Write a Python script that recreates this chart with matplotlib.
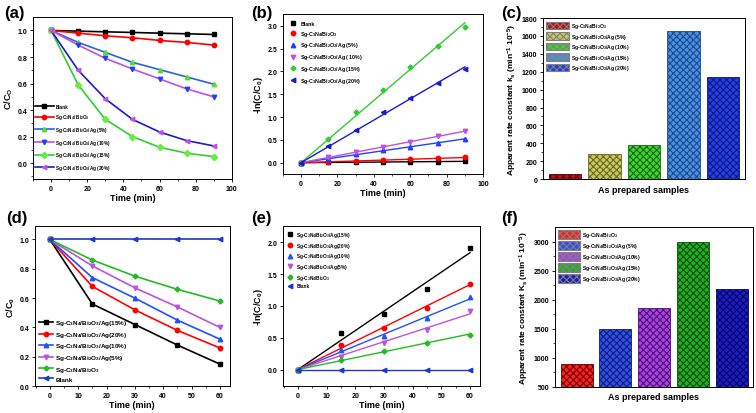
import matplotlib
matplotlib.use('Agg')
import matplotlib.pyplot as plt
import numpy as np
from matplotlib.patches import Patch

plt.rcParams['font.family'] = ['Liberation Sans', 'DejaVu Sans']
plt.rcParams['font.weight'] = 'bold'
plt.rcParams['axes.labelweight'] = 'bold'
plt.rcParams['mathtext.default'] = 'regular'
plt.rcParams['hatch.linewidth'] = 0.8

# ---- data ----
t_a = [0, 15, 30, 45, 60, 75, 90]
a_labels = ['Blank', 'Sg-C$_3$N$_4$/ Bi$_2$O$_3$', 'Sg-C$_3$N$_4$/ Bi$_2$O$_3$/Ag (5%)',
            'Sg-C$_3$N$_4$/ Bi$_2$O$_3$/Ag (10%)', 'Sg-C$_3$N$_4$/ Bi$_2$O$_3$/Ag (15%)',
            'Sg-C$_3$N$_4$/ Bi$_2$O$_3$/Ag (20%)']
a_blank = [1.0, 0.995, 0.99, 0.985, 0.98, 0.975, 0.97]
a_bi = [1.0, 0.98, 0.96, 0.945, 0.925, 0.91, 0.89]
a_5 = [1.0, 0.91, 0.835, 0.76, 0.705, 0.65, 0.595]
a_10 = [1.0, 0.89, 0.79, 0.71, 0.635, 0.56, 0.50]
a_15 = [1.0, 0.59, 0.33, 0.20, 0.12, 0.075, 0.05]
a_20 = [1.0, 0.70, 0.485, 0.33, 0.235, 0.17, 0.13]

b_labels = ['Blank', 'Sg-C$_3$N$_4$/Bi$_2$O$_3$', 'Sg-C$_3$N$_4$/Bi$_2$O$_3$/Ag (5%)',
            'Sg-C$_3$N$_4$/Bi$_2$O$_3$/Ag ( 10%)', 'Sg-C$_3$N$_4$/Bi$_2$O$_3$/Ag (15%)',
            'Sg-C$_3$N$_4$/Bi$_2$O$_3$/Ag (20%)']
b_blank = [0, 0.005, 0.01, 0.015, 0.02, 0.025, 0.03]
b_bi = [0, 0.02, 0.04, 0.055, 0.075, 0.095, 0.115]
b_5 = [0, 0.09, 0.18, 0.27, 0.35, 0.43, 0.52]
b_10 = [0, 0.12, 0.23, 0.34, 0.46, 0.58, 0.69]
b_15 = [0, 0.53, 1.10, 1.60, 2.10, 2.55, 2.97]
b_20 = [0, 0.36, 0.72, 1.10, 1.42, 1.75, 2.05]

c_labels = ['Sg-C$_3$N$_4$/Bi$_2$O$_3$', 'Sg-C$_3$N$_4$/Bi$_2$O$_3$/Ag (5%)',
            'Sg-C$_3$N$_4$/Bi$_2$O$_3$/Ag (10%)', 'Sg-C$_3$N$_4$/Bi$_2$O$_3$/Ag (15%)',
            'Sg-C$_3$N$_4$/Bi$_2$O$_3$/Ag (20%)']
c_vals = [60, 285, 385, 1660, 1140]

t_d = [0, 15, 30, 45, 60]
d_labels = ['Sg-C$_3$N$_4$/Bi$_2$O$_3$/Ag(15%)', 'Sg-C$_3$N$_4$/Bi$_2$O$_3$/Ag(20%)',
            'Sg-C$_3$N$_4$/Bi$_2$O$_3$/Ag(10%)', 'Sg-C$_3$N$_4$/Bi$_2$O$_3$/Ag(5%)',
            'Sg-C$_3$N$_4$/Bi$_2$O$_3$', 'Blank']
d_15 = [1.0, 0.56, 0.42, 0.28, 0.15]
d_20 = [1.0, 0.68, 0.52, 0.38, 0.26]
d_10 = [1.0, 0.74, 0.60, 0.45, 0.32]
d_5 = [1.0, 0.82, 0.67, 0.54, 0.40]
d_bi = [1.0, 0.86, 0.75, 0.66, 0.58]
d_blank = [1.0, 1.0, 1.0, 1.0, 1.0]

e_15 = [0, 0.58, 0.87, 1.27, 1.91]
e_20 = [0, 0.38, 0.66, 0.97, 1.35]
e_10 = [0, 0.30, 0.52, 0.81, 1.14]
e_5 = [0, 0.20, 0.41, 0.62, 0.92]
e_bi = [0, 0.15, 0.29, 0.42, 0.55]
e_blank = [0, 0, 0, 0, 0]

f_vals = [900, 1500, 1850, 3000, 2190]


def style(ax):
    ax.tick_params(labelsize=5, width=0.6, length=2.5, pad=1.5)
    ax.tick_params(which='minor', width=0.5, length=1.5)
    for s in ax.spines.values():
        s.set_linewidth(0.7)


def origin_fit(x, y):
    # least squares slope through the origin
    x = np.asarray(x, float)
    y = np.asarray(y, float)
    return np.sum(x * y) / np.sum(x * x)


fig = plt.figure(figsize=(7.56, 4.14), dpi=100)

# (a)
ax = fig.add_axes([0.0437, 0.565, 0.263, 0.391])
a_series = [a_blank, a_bi, a_5, a_10, a_15, a_20]
a_lc = ['black', 'red', '#2f5fe0', '#c050e0', '#33cc33', '#1a1acc']
a_mc = ['black', 'red', '#55dd33', '#2040ff', '#66ee44', '#c050e0']
a_mk = ['s', 'o', '^', 'v', 'D', '<']
for y, lc, mc, mk, lab in zip(a_series, a_lc, a_mc, a_mk, a_labels):
    ax.plot(t_a, y, color=lc, lw=1.2, marker=mk, ms=3.2, mfc=mc, mec=mc, label=lab)
ax.set_xlim(-10, 100)
ax.set_ylim(-0.12, 1.1)
ax.set_xticks([0, 20, 40, 60, 80, 100])
ax.set_yticks([0.0, 0.2, 0.4, 0.6, 0.8, 1.0])
ax.set_xticks([-10, 10, 30, 50, 70, 90], minor=True)
ax.set_yticks([-0.1, 0.1, 0.3, 0.5, 0.7, 0.9], minor=True)
ax.set_xlabel('Time (min)', fontsize=6.5, labelpad=1)
ax.set_ylabel('C/C$_O$', fontsize=6.5, labelpad=2)
style(ax)
ax.legend(loc='lower left', fontsize=3.3, frameon=False, handlelength=4, labelspacing=0.8,
          borderaxespad=0.1, handletextpad=0.4, bbox_to_anchor=(0, 0.03))

# (b)
ax = fig.add_axes([0.374, 0.577, 0.265, 0.386])
b_series = [b_blank, b_bi, b_5, b_10, b_15, b_20]
b_col = ['black', 'red', '#2040ff', '#c050e0', '#33cc33', '#1a1acc']
b_mk = ['s', 'o', '^', 'v', 'P', '<']
xx = np.array([0, 90])
for y, c, mk, lab in zip(b_series, b_col, b_mk, b_labels):
    ax.plot(xx, origin_fit(t_a, y) * xx, color=c, lw=1.0)
    ax.plot(t_a, y, ls='none', marker=mk, ms=3.2, color=c, label=lab)
ax.set_xlim(-10, 100)
ax.set_ylim(-0.25, 3.25)
ax.set_xticks([0, 20, 40, 60, 80, 100])
ax.set_yticks([0.0, 0.5, 1.0, 1.5, 2.0, 2.5, 3.0])
ax.set_xticks([-10, 10, 30, 50, 70, 90], minor=True)
ax.set_xlabel('Time (min)', fontsize=6.5, labelpad=1)
ax.set_ylabel('-ln(C/C$_0$)', fontsize=6.5, labelpad=2)
style(ax)
ax.legend(loc='upper left', fontsize=3.8, frameon=False, handlelength=1.5, labelspacing=0.55,
          borderaxespad=0.8, handletextpad=0.6)

# (c)
ax = fig.add_axes([0.718, 0.565, 0.267, 0.389])
c_face = ['#c01010', '#c8c860', '#44d030', '#4a90e0', '#2040e8']
c_edge = ['#600010', '#6a6a20', '#107010', '#1a4a90', '#101880']
xs = np.arange(len(c_vals))
for i in range(len(c_vals)):
    ax.bar(xs[i], c_vals[i], width=0.82, color=c_face[i], edgecolor=c_edge[i],
           hatch='xxxxx', linewidth=0.6)
ax.set_xlim(-0.56, 4.55)
ax.set_ylim(0, 1800)
ax.set_xticks([])
ax.set_yticks(np.arange(0, 1801, 200))
ax.set_yticks(np.arange(100, 1800, 200), minor=True)
ax.set_xlabel('As prepared samples', fontsize=6.5, labelpad=4)
ax.set_ylabel('Apparent rate constant k$_s$ (min$^{-1}$ 10$^{-5}$)', fontsize=6, labelpad=2)
style(ax)
handles = [Patch(facecolor=c_face[i], edgecolor='#808080', hatch='xxxxx', linewidth=0.8)
           for i in range(5)]
ax.legend(handles, c_labels, loc='upper left', fontsize=3.6, frameon=False,
          handlelength=4.6, handleheight=2.0, labelspacing=0.3, borderaxespad=0.2,
          handletextpad=0.5)

# (d)
ax = fig.add_axes([0.046, 0.065, 0.258, 0.386])
d_series = [d_15, d_20, d_10, d_5, d_bi, d_blank]
d_col = ['black', 'red', '#2050ff', '#c050e0', '#22bb22', '#1a3acc']
d_mk = ['s', 'o', '^', 'v', 'P', '<']
for y, c, mk, lab in zip(d_series, d_col, d_mk, d_labels):
    ax.plot(t_d, y, color=c, lw=1.2, marker=mk, ms=3.2, label=lab)
ax.set_xlim(-5.3, 63.5)
ax.set_ylim(0, 1.09)
ax.set_xticks([0, 10, 20, 30, 40, 50, 60])
ax.set_yticks([0.0, 0.2, 0.4, 0.6, 0.8, 1.0])
ax.set_xticks(np.arange(-5, 64, 5), minor=True)
ax.set_xlabel('Time (min)', fontsize=6.5, labelpad=1)
ax.set_ylabel('C/C$_0$', fontsize=6.5, labelpad=2)
style(ax)
ax.legend(loc='lower left', fontsize=4.6, frameon=False, handlelength=2.2, labelspacing=0.4,
          borderaxespad=0.3, handletextpad=0.3)

# (e)
ax = fig.add_axes([0.374, 0.065, 0.261, 0.386])
e_series = [e_15, e_20, e_10, e_5, e_bi, e_blank]
xx = np.array([0, 60])
for y, c, mk, lab in zip(e_series, d_col, d_mk, d_labels):
    ax.plot(xx, origin_fit(t_d, y) * xx, color=c, lw=1.0)
    ax.plot(t_d, y, ls='none', marker=mk, ms=3.2, color=c, label=lab)
ax.set_xlim(-5.3, 63.5)
ax.set_ylim(-0.26, 2.25)
ax.set_xticks([0, 10, 20, 30, 40, 50, 60])
ax.set_yticks([0.0, 0.5, 1.0, 1.5, 2.0])
ax.set_xticks(np.arange(-5, 64, 5), minor=True)
ax.set_xlabel('Time (min)', fontsize=6.5, labelpad=1)
ax.set_ylabel('-ln(C/C$_0$)', fontsize=6.5, labelpad=2)
style(ax)
ax.legend(loc='upper left', fontsize=3.4, frameon=False, handlelength=1.5, labelspacing=0.35,
          borderaxespad=0.4, handletextpad=0.6)

# (f)
ax = fig.add_axes([0.734, 0.063, 0.262, 0.386])
f_face = ['#ff2020', '#2f4ff0', '#a843e8', '#22b022', '#1c1cc8']
f_edge = ['#700000', '#102070', '#501070', '#0a500a', '#080860']
for i in range(len(f_vals)):
    ax.bar(xs[i], f_vals[i] - 500, bottom=500, width=0.82, color=f_face[i],
           edgecolor=f_edge[i], hatch='xxxxx', linewidth=0.6)
ax.set_xlim(-0.56, 4.55)
ax.set_ylim(500, 3250)
ax.set_xticks([])
ax.set_yticks(np.arange(500, 3001, 500))
ax.set_yticks(np.arange(750, 3250, 500), minor=True)
ax.set_xlabel('As prepared samples', fontsize=6.5, labelpad=4)
ax.set_ylabel('Apparent rate constant K$_s$ (min$^{-1}$ 10$^{-5}$)', fontsize=6, labelpad=2)
style(ax)
handles = [Patch(facecolor=f_face[i], edgecolor='#808080', hatch='xxxxx', linewidth=0.8)
           for i in range(5)]
ax.legend(handles, c_labels, loc='upper left', fontsize=3.6, frameon=False,
          handlelength=4.4, handleheight=2.2, labelspacing=0.4, borderaxespad=0.2,
          handletextpad=0.4)

# panel labels
for lab, x, y in [('(a)', 0.005, 0.985), ('(b)', 0.332, 0.985), ('(c)', 0.663, 0.985),
                  ('(d)', 0.008, 0.49), ('(e)', 0.332, 0.49), ('(f)', 0.663, 0.49)]:
    fig.text(x, y, lab, fontsize=12, fontweight='bold', va='top', ha='left')

fig.savefig('out.png', dpi=100)
